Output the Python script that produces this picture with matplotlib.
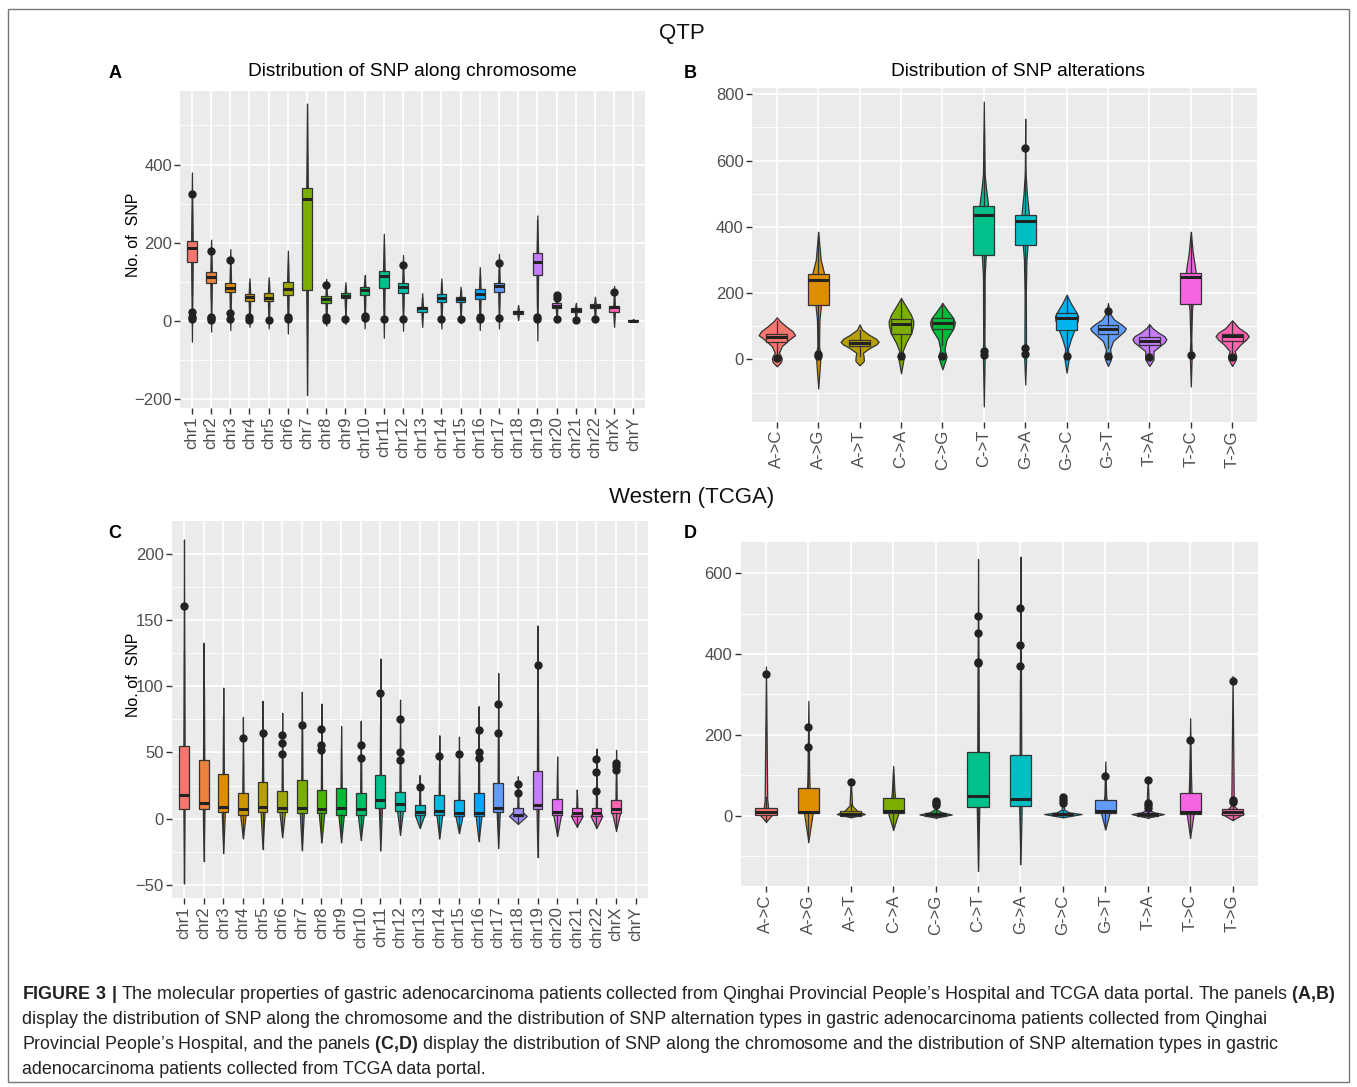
import numpy as np
import matplotlib
matplotlib.use('Agg')
import matplotlib.pyplot as plt
from matplotlib.patches import Rectangle

plt.rcParams['font.family'] = ['Liberation Sans', 'DejaVu Sans']
plt.rcParams['mathtext.fontset'] = 'custom'
plt.rcParams['mathtext.rm'] = 'Liberation Sans'
plt.rcParams['mathtext.bf'] = 'Liberation Sans:bold'

W, H = 1357, 1087

# ---------------- data ----------------
chroms = ['chr%d' % i for i in range(1, 23)] + ['chrX', 'chrY']
alts = ['A->C', 'A->G', 'A->T', 'C->A', 'C->G', 'C->T',
        'G->A', 'G->C', 'G->T', 'T->A', 'T->C', 'T->G']

# A: QTP, SNP per chromosome (box stats, violin range, outliers)
a_q1 = [150, 98, 73, 50, 50, 67, 79, 47, 58, 67, 85, 71, 22, 48, 48, 56, 74, 17, 118, 34, 22, 32, 22, 0]
a_med = [186, 113, 85, 61, 60, 83, 312, 57, 65, 79, 114, 86, 32, 60, 56, 69, 90, 22, 150, 39, 28, 38, 35, 1]
a_q3 = [205, 126, 98, 69, 71, 100, 341, 64, 71, 88, 129, 98, 37, 68, 61, 81, 98, 26, 174, 45, 32, 43, 38, 3]
a_lo = [-53, -27, -23, -15, -19, -32, -188, -12, -8, -19, -43, -25, -15, -19, -6, -23, -19, 3, -50, 3, -2, 0, -15, -1]
a_hi = [380, 208, 184, 109, 112, 180, 556, 108, 99, 117, 223, 169, 71, 109, 88, 138, 172, 41, 270, 71, 45, 62, 90, 4]
a_out = [[324, 22, 11, 5], [178, 11, 7, 3], [156, 20, 4], [9, 3], [3], [11, 4], [], [91, 9, 3],
         [4], [13, 7], [4], [142, 4], [], [4], [4], [11, 4], [148, 7], [], [11, 6], [66, 60, 4],
         [3], [4], [73], []]

# B: QTP, SNP alteration types
b_q1 = [52, 164, 40, 76, 93, 316, 346, 89, 76, 43, 167, 54]
b_med = [68, 239, 50, 108, 111, 436, 419, 126, 91, 57, 248, 71]
b_q3 = [78, 258, 60, 123, 126, 464, 436, 141, 103, 69, 260, 78]
b_out = [[5], [9, 15], [], [9], [9], [25, 12], [639, 35, 15], [9], [147, 9], [6], [12], [8]]
b_vio_y = [[-21, -8, 3, 12, 20, 40, 60, 73, 85, 100, 115, 127],
           [-88, 0, 10, 40, 120, 180, 240, 260, 300, 385],
           [-18, -5, 5, 20, 35, 45, 53, 62, 75, 90, 106],
           [-42, 0, 9, 25, 50, 80, 100, 115, 135, 160, 185],
           [-30, 0, 9, 30, 60, 90, 103, 112, 125, 145, 170],
           [-142, 0, 15, 50, 250, 320, 420, 470, 520, 560, 778],
           [-76, 10, 40, 200, 300, 350, 420, 450, 500, 560, 726],
           [-40, 0, 9, 30, 60, 100, 118, 130, 145, 170, 195],
           [-20, 0, 9, 30, 55, 75, 86, 94, 105, 120, 140, 170],
           [-20, 0, 9, 25, 40, 52, 61, 70, 82, 95, 106],
           [-82, 0, 10, 60, 150, 200, 250, 280, 320, 385],
           [-20, 0, 9, 25, 45, 60, 70, 80, 95, 118]]
b_vio_w = [[0, .1, .12, .09, .05, .12, .3, .44, .38, .22, .08, 0],
           [0, .05, .06, .02, .03, .08, .2, .14, .06, 0],
           [0, .1, .1, .08, .25, .4, .46, .4, .22, .06, 0],
           [0, .06, .08, .04, .12, .25, .29, .3, .24, .12, 0],
           [0, .08, .1, .05, .1, .25, .29, .3, .26, .14, 0],
           [0, .02, .03, .015, .02, .05, .12, .1, .05, .02, 0],
           [0, .025, .02, .015, .03, .06, .1, .08, .04, .01, 0],
           [0, .05, .06, .03, .1, .22, .27, .28, .22, .1, 0],
           [0, .07, .08, .05, .12, .3, .4, .43, .33, .15, .04, 0],
           [0, .1, .1, .1, .25, .37, .41, .36, .2, .07, 0],
           [0, .02, .025, .01, .03, .08, .13, .1, .05, 0],
           [0, .09, .1, .06, .2, .34, .4, .34, .16, 0]]

# C: TCGA, SNP per chromosome (chrY empty)
c_q1 = [7, 7, 5, 3, 5, 5, 4, 4, 3, 3, 8, 6, 3, 3, 2, 2, 5, 2, 7, 3, 2, 2, 4, None]
c_med = [18, 12, 9, 7, 9, 8, 8, 7, 8, 7, 14, 11, 5, 6, 4, 4, 8, 3, 10, 5, 4, 4, 7, None]
c_q3 = [55, 44, 34, 19, 28, 21, 29, 22, 23, 19, 33, 20, 10, 18, 14, 19, 27, 8, 36, 15, 8, 8, 14, None]
c_lo = [-49, -32, -26, -15, -23, -14, -24, -18, -18, -16, -24, -12, -7, -15, -11, -17, -22, -4, -29, -13, -6, -7, -9, None]
c_hi = [211, 133, 99, 77, 89, 80, 96, 87, 70, 74, 121, 90, 33, 63, 62, 85, 110, 32, 146, 47, 22, 53, 52, None]
c_vw = [.03, .04, .08, .14, .1, .14, .1, .14, .14, .15, .08, .15, .25, .15, .18, .15, .08, .45, .05, .2, .3, .3, .2, None]
c_out = [[161], [], [], [61], [65], [63, 57, 49], [71], [68, 56, 52], [], [56, 46], [95], [75, 50, 44],
         [24], [47], [49], [67, 50, 46], [87, 65], [26, 19], [116], [], [], [45, 35, 21], [42, 40, 37], []]

# D: TCGA, SNP alteration types
d_q1 = [2, 6, 0, 6, 0, 21, 25, 2, 6, 0, 4, 2]
d_med = [8, 10, 4, 12, 3, 49, 41, 4, 12, 4, 10, 9]
d_q3 = [20, 69, 12, 45, 7, 157, 150, 7, 39, 7, 57, 16]
d_out = [[351], [220, 171], [84], [], [37, 32, 26], [494, 453, 381, 377], [513, 423, 371],
         [47, 40, 31], [99], [88, 32, 26, 18], [187], [333, 39, 33]]
d_vio_y = [[-15, 3, 10, 20, 40, 369],
           [-64, 5, 30, 100, 284],
           [-4, 4, 12, 25, 90],
           [-35, 6, 30, 60, 123],
           [-5, 3, 8, 15, 40],
           [-136, 20, 100, 400, 635],
           [-120, 25, 100, 400, 641],
           [-4, 4, 8, 15, 49],
           [-34, 6, 25, 50, 134],
           [-5, 4, 8, 15, 94],
           [-54, 4, 30, 100, 241],
           [-11, 5, 12, 25, 346]]
d_vio_w = [[0, .15, .12, .05, .03, 0],
           [0, .1, .04, .02, 0],
           [0, .33, .15, .03, 0],
           [0, .12, .06, .03, 0],
           [0, .38, .15, .03, 0],
           [0, .03, .02, .01, 0],
           [0, .03, .02, .01, 0],
           [0, .44, .15, .03, 0],
           [0, .1, .05, .02, 0],
           [0, .38, .15, .03, 0],
           [0, .08, .04, .02, 0],
           [0, .26, .15, .03, 0]]


def hue_pal(n):
    # ggplot2 default discrete palette (hcl, c=100, l=65)
    cols = []
    for h in np.linspace(15, 375, n + 1)[:-1]:
        hr = np.radians(h)
        L, C = 65.0, 100.0
        xn, yn, zn = 95.047, 100.0, 108.883
        un = 4 * xn / (xn + 15 * yn + 3 * zn)
        vn = 9 * yn / (xn + 15 * yn + 3 * zn)
        y = yn * ((L + 16) / 116) ** 3
        u = C * np.cos(hr) / (13 * L) + un
        v = C * np.sin(hr) / (13 * L) + vn
        x = 9 * y * u / (4 * v)
        z = -x / 3 - 5 * y + 3 * y / v
        m = np.array([[3.240479, -1.537150, -0.498535],
                      [-0.969256, 1.875992, 0.041556],
                      [0.055648, -0.204043, 1.057311]])
        rgb = np.clip(m @ np.array([x, y, z]) / 100, 0, 1)
        rgb = np.where(rgb > 0.00304, 1.055 * rgb ** (1 / 2.4) - 0.055, 12.92 * rgb)
        cols.append(tuple(np.clip(rgb, 0, 1)))
    return cols


def draw_panel(ax, labels, cols, q1, med, q3, outs, vio_y, vio_w, lo, hi,
               ylim, yt, ymt, box_w=0.5):
    n = len(labels)
    pos = np.arange(1, n + 1)
    stats, bpos, bcols = [], [], []
    for i in range(n):
        if q1[i] is None:
            continue
        iqr = q3[i] - q1[i]
        stats.append(dict(med=med[i], q1=q1[i], q3=q3[i],
                          whislo=max(lo[i], q1[i] - 1.5 * iqr),
                          whishi=min(hi[i], q3[i] + 1.5 * iqr),
                          fliers=np.array(outs[i], dtype=float)))
        bpos.append(pos[i])
        bcols.append(cols[i])
        yy = np.array(vio_y[i], dtype=float)
        ww = np.array(vio_w[i], dtype=float)
        ax.fill_betweenx(yy, pos[i] - ww, pos[i] + ww, facecolor=cols[i],
                         edgecolor='#333333', lw=0.9, zorder=2)
    bp = ax.bxp(stats, positions=bpos, widths=box_w, patch_artist=True,
                showcaps=False, manage_ticks=False, zorder=3,
                boxprops=dict(edgecolor='#333333', lw=0.9),
                medianprops=dict(color='#222222', lw=2.2),
                whiskerprops=dict(color='#333333', lw=0.9),
                flierprops=dict(marker='o', markerfacecolor='#222222',
                                markeredgecolor='#222222', markersize=5))
    for b, c in zip(bp['boxes'], bcols):
        b.set_facecolor(c)

    ax.set_xlim(0.4, n + 0.6)
    ax.set_ylim(*ylim)
    ax.set_xticks(pos)
    ax.set_xticklabels(labels, rotation=90)
    ax.set_yticks(yt)
    ax.set_yticks(ymt, minor=True)
    ax.set_facecolor('#EBEBEB')
    ax.set_axisbelow(True)
    ax.grid(which='major', color='white', lw=1.2)
    ax.grid(which='minor', axis='y', color='white', lw=0.6)
    for s in ax.spines.values():
        s.set_visible(False)
    ax.tick_params(which='major', length=4, width=1, color='#333333',
                   labelcolor='#4D4D4D', labelsize=12, pad=2)
    ax.tick_params(which='minor', length=0)


def add_ax(left, top, right, bottom):
    return fig.add_axes([left / W, 1 - bottom / H, (right - left) / W, (bottom - top) / H])


fig = plt.figure(figsize=(W / 100, H / 100), dpi=100)
cols24 = hue_pal(24)
cols12 = hue_pal(12)

# A
axA = add_ax(180.4, 90.7, 644.8, 408)
draw_panel(axA, chroms, cols24, a_q1, a_med, a_q3, a_out,
           [[a_lo[i], a_q1[i], a_q3[i], a_hi[i]] for i in range(24)],
           [[0, 0.04, 0.04, 0]] * 24, a_lo, a_hi,
           (-222.5, 589), [-200, 0, 200, 400], [-100, 100, 300, 500])

# B
axB = add_ax(752, 88.3, 1257, 421.7)
b_lo = [v[0] for v in b_vio_y]
b_hi = [v[-1] for v in b_vio_y]
draw_panel(axB, alts, cols12, b_q1, b_med, b_q3, b_out, b_vio_y, b_vio_w, b_lo, b_hi,
           (-188, 818), [0, 200, 400, 600, 800], [-100, 100, 300, 500, 700])

# C
axC = add_ax(172.2, 521, 647.5, 898)
c_vy = [None if c_q1[i] is None else [c_lo[i], c_q1[i], c_q3[i], c_hi[i]] for i in range(24)]
c_vwl = [None if c_q1[i] is None else [0, c_vw[i], 0.03, 0] for i in range(24)]
draw_panel(axC, chroms, cols24, c_q1, c_med, c_q3, c_out, c_vy, c_vwl, c_lo, c_hi,
           (-60, 225), [-50, 0, 50, 100, 150, 200], [-25, 25, 75, 125, 175])

# D
axD = add_ax(740.5, 541.7, 1258, 886)
d_lo = [v[0] for v in d_vio_y]
d_hi = [v[-1] for v in d_vio_y]
draw_panel(axD, alts, cols12, d_q1, d_med, d_q3, d_out, d_vio_y, d_vio_w, d_lo, d_hi,
           (-174, 678), [0, 200, 400, 600], [-100, 100, 300, 500])


def ftext(x, y, s, **kw):
    return fig.text(x / W, 1 - y / H, s, **kw)


ftext(682, 34, 'QTP', fontsize=16, ha='center', va='center', color='#111111')
ftext(692, 497, 'Western (TCGA)', fontsize=16, ha='center', va='center', color='#111111')
ftext(412, 72, 'Distribution of SNP along chromosome', fontsize=13.8, ha='center', va='center')
ftext(1018, 72, 'Distribution of SNP alterations', fontsize=13.8, ha='center', va='center')
for lab, x, y in [('A', 115, 74), ('B', 690, 74), ('C', 115, 534), ('D', 690, 534)]:
    ftext(x, y, lab, fontsize=13, fontweight='bold', ha='center', va='center')
ftext(134, 235, 'No. of  SNP', fontsize=11.5, rotation=90, ha='center', va='center')
ftext(134, 675, 'No. of  SNP', fontsize=11.5, rotation=90, ha='center', va='center')

caption = [
    r'$\bf{FIGURE\ 3\ |}$ The molecular properties of gastric adenocarcinoma patients collected from '
    r'Qinghai Provincial People’s Hospital and TCGA data portal. The panels $\bf{(A{,}B)}$',
    'display the distribution of SNP along the chromosome and the distribution of SNP alternation '
    'types in gastric adenocarcinoma patients collected from Qinghai',
    r'Provincial People’s Hospital, and the panels $\bf{(C{,}D)}$ display the distribution of SNP '
    'along the chromosome and the distribution of SNP alternation types in gastric',
    'adenocarcinoma patients collected from TCGA data portal.',
]
for k, line in enumerate(caption):
    ftext(22, 999 + 25 * k, line, fontsize=12.9, ha='left', va='baseline', color='#222222')

fig.patches.append(Rectangle((8 / W, 1 - 1082 / H), 1341 / W, 1073 / H,
                             transform=fig.transFigure, fill=False,
                             edgecolor='#777777', lw=1))

fig.savefig('out.png', dpi=100)
